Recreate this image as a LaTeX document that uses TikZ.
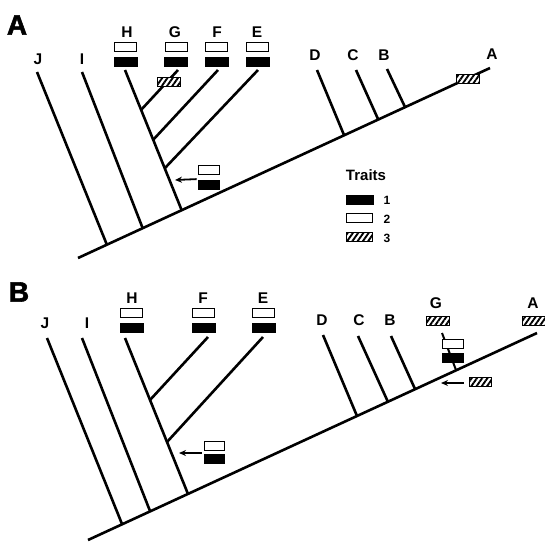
\documentclass[tikz,border=0pt]{standalone}
\usepackage{fontspec}
\setmainfont{Liberation Sans}
\newfontfamily\heavyfont{Liberation Sans Bold}[FakeBold=2]
\usetikzlibrary{patterns.meta,arrows.meta}
\tikzset{
  br/.style={line width=2.6pt},
  bbox/.style={draw,fill=black,minimum width=23pt,minimum height=9pt,inner sep=0pt,line width=0.8pt},
  wbox/.style={draw,fill=white,minimum width=22pt,minimum height=9pt,inner sep=0pt,line width=1pt},
  hbox/.style={draw,line width=1pt,minimum width=23pt,minimum height=9pt,inner sep=0pt,
    preaction={fill=white},pattern={Lines[angle=55,distance=4.3pt,line width=1.9pt]}},
  lab/.style={font=\fontsize{15.5}{15.5}\selectfont\bfseries,inner sep=0pt},
  panel/.style={font=\fontsize{28}{28}\selectfont\heavyfont,inner sep=0pt},
  num/.style={font=\fontsize{12}{12}\selectfont\bfseries,inner sep=0pt},
  arr/.style={-{Stealth[length=7pt,width=6pt]},line width=1.8pt},
}
\begin{document}
\begin{tikzpicture}[x=1pt,y=-1pt]
\useasboundingbox (0,0) rectangle (545,542);
% ---------------- Panel A ----------------
\node[panel] (pA) at (17,25) {A};
\coordinate (a0) at (78,258);
\coordinate (a1) at (490,68);
\draw[br] (a0) -- (a1);
% tips and junctions
\coordinate (aJt) at (37,72);  \coordinate (aJb) at (107,245);
\coordinate (aIt) at (82,72);  \coordinate (aIb) at (143,229);
\coordinate (aHt) at (125,70); \coordinate (aHb) at (182,211);
\coordinate (aGt) at (178,70); \coordinate (aGb) at (141,110);
\coordinate (aFt) at (218,70); \coordinate (aFb) at (153,140);
\coordinate (aEt) at (258,70); \coordinate (aEb) at (165,168);
\coordinate (aDt) at (317,70); \coordinate (aDb) at (344,135);
\coordinate (aCt) at (356,70); \coordinate (aCb) at (378,119);
\coordinate (aBt) at (387,69); \coordinate (aBb) at (405,107);
\draw[br] (aJt) -- (aJb);
\draw[br] (aIt) -- (aIb);
\draw[br] (aHt) -- (aHb);
\draw[br] (aGt) -- (aGb);
\draw[br] (aFt) -- (aFb);
\draw[br] (aEt) -- (aEb);
\draw[br] (aDt) -- (aDb);
\draw[br] (aCt) -- (aCb);
\draw[br] (aBt) -- (aBb);
% labels
\node[lab] (laJ) at (38,59) {J};
\node[lab] (laI) at (82,59) {I};
\node[lab] (laH) at (127,32) {H};
\node[lab] (laG) at (175,32) {G};
\node[lab] (laF) at (217,32) {F};
\node[lab] (laE) at (257,32) {E};
\node[lab] (laD) at (315,55) {D};
\node[lab] (laC) at (353,55) {C};
\node[lab] (laB) at (384,55) {B};
\node[lab] (laA) at (492,54) {A};
% boxes
\node[wbox] (awH) at (125.5,47) {};  \node[bbox] (abH) at (125.5,61.5) {};
\node[wbox] (awG) at (176,47) {};    \node[bbox] (abG) at (176,61.5) {};
\node[wbox] (awF) at (216.5,47) {};  \node[bbox] (abF) at (216.5,61.5) {};
\node[wbox] (awE) at (257.5,47) {};  \node[bbox] (abE) at (257.5,61.5) {};
\node[hbox] (ahG) at (168.5,81.5) {};
\node[hbox] (ahA) at (467.5,78.5) {};
% arrow
\node[wbox,minimum width=21pt] (awX) at (208.5,170) {};
\node[bbox,minimum width=21pt] (abX) at (208.5,184.5) {};
\coordinate (aXe) at (175,180);
\draw[arr] (abX.north west) ++(-1,-0.5) coordinate (aXs) -- (aXe);
% legend
\node[lab,font=\fontsize{15}{15}\selectfont\bfseries] (trait) at (366,175) {Traits};
\node[bbox,minimum width=27pt] (lg1) at (359.5,200) {};
\node[wbox,minimum width=26pt] (lg2) at (359,218) {};
\node[hbox,minimum width=26pt] (lg3) at (359,237) {};
\node[num] (n1) at (387,200) {1};
\node[num] (n2) at (387,219) {2};
\node[num] (n3) at (387,238) {3};
% ---------------- Panel B ----------------
\node[panel] (pB) at (19,292) {B};
\coordinate (b0) at (88,540);
\coordinate (b1) at (537,333);
\draw[br] (b0) -- (b1);
\coordinate (bJt) at (47,338);  \coordinate (bJb) at (122,524);
\coordinate (bIt) at (82,338);  \coordinate (bIb) at (150,511);
\coordinate (bHt) at (125,338); \coordinate (bHb) at (188,494);
\coordinate (bFt) at (208,337); \coordinate (bFb) at (150,400);
\coordinate (bEt) at (263,337); \coordinate (bEb) at (167,442);
\coordinate (bDt) at (323,335); \coordinate (bDb) at (357,416);
\coordinate (bCt) at (358,336); \coordinate (bCb) at (388,402);
\coordinate (bBt) at (391,336); \coordinate (bBb) at (415,389);
\coordinate (bGt) at (442,333); \coordinate (bGb) at (456,370);
\draw[br] (bJt) -- (bJb);
\draw[br] (bIt) -- (bIb);
\draw[br] (bHt) -- (bHb);
\draw[br] (bFt) -- (bFb);
\draw[br] (bEt) -- (bEb);
\draw[br] (bDt) -- (bDb);
\draw[br] (bCt) -- (bCb);
\draw[br] (bBt) -- (bBb);
\draw[line width=2pt] (bGt) -- (bGb);
\node[lab] (lbJ) at (45,323) {J};
\node[lab] (lbI) at (87,323) {I};
\node[lab] (lbH) at (132,298) {H};
\node[lab] (lbF) at (203,298) {F};
\node[lab] (lbE) at (263,298) {E};
\node[lab] (lbD) at (322,320) {D};
\node[lab] (lbC) at (359,320) {C};
\node[lab] (lbB) at (390,320) {B};
\node[lab] (lbG) at (436,303) {G};
\node[lab] (lbA) at (533,303) {A};
\node[wbox] (bwH) at (131.5,312.5) {}; \node[bbox] (bbH) at (132,327.5) {};
\node[wbox] (bwF) at (203,312.5) {};   \node[bbox] (bbF) at (203.5,327.5) {};
\node[wbox] (bwE) at (263.5,312.5) {}; \node[bbox] (bbE) at (263.5,327.5) {};
\node[hbox] (bhG) at (438,320.5) {};
\node[hbox] (bhA) at (533.5,320.5) {};
\node[wbox,minimum width=21pt] (bwG) at (452.5,344) {};
\node[bbox,minimum width=21pt] (bbG) at (452.5,357.5) {};
% left arrow
\node[wbox,minimum width=20pt] (bwX) at (214,446) {};
\node[bbox,minimum width=20pt] (bbX) at (214,459) {};
\coordinate (bXs) at (202,453);
\coordinate (bXe) at (179,453);
\draw[arr] (bXs) -- (bXe);
% right arrow
\node[hbox,minimum width=22pt] (bhX) at (480,382) {};
\coordinate (bYe) at (441,383);
\draw[arr] (bhX.west) ++(-5,1) coordinate (bYs) -- (bYe);
\end{tikzpicture}
\end{document}
